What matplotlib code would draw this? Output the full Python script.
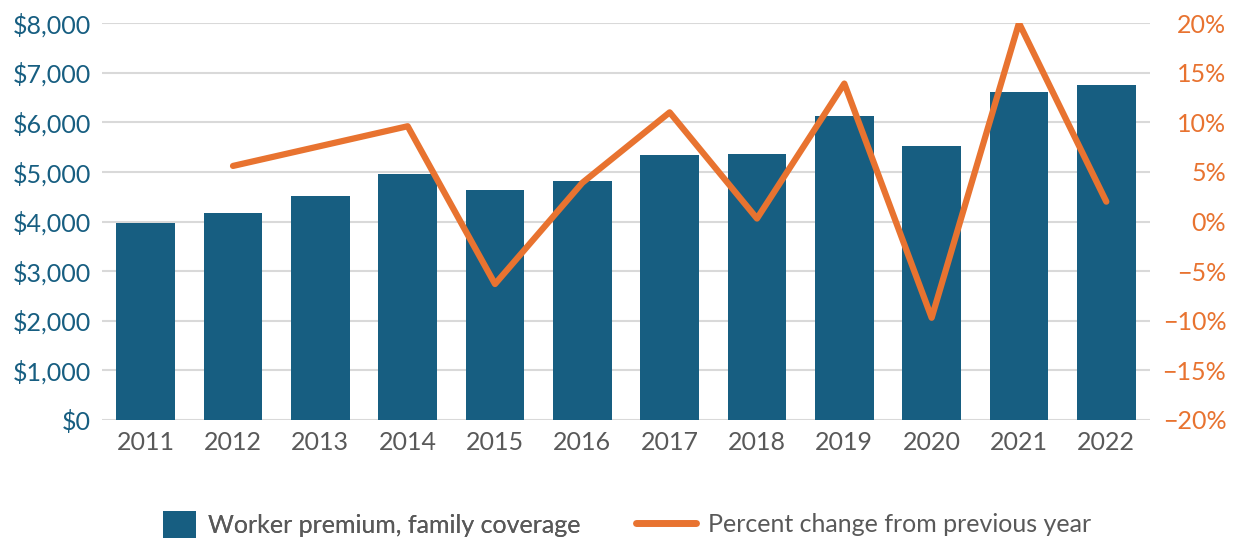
import numpy as np
import matplotlib.pyplot as plt
from matplotlib.lines import Line2D
from matplotlib.patches import Patch

years = ["2011", "2012", "2013", "2014", "2015", "2016",
         "2017", "2018", "2019", "2020", "2021", "2022"]
premium = [3970, 4180, 4520, 4960, 4640, 4820,
           5345, 5370, 6130, 5530, 6610, 6750]
pct_years = years[1:]
pct_change = [5.6, 7.6, 9.6, -6.3, 3.9, 11.0, 0.3, 13.9, -9.7, 20.0, 2.0]

blue = "#175e81"
orange = "#e87330"
gray_text = "#595959"

plt.rcParams["font.family"] = ["Lato", "DejaVu Sans"]

fig = plt.figure(figsize=(12.38, 5.39), dpi=100)
ax = fig.add_axes([0.0824, 0.2208, 0.8465, 0.7365])

x = np.arange(len(years))
ax.bar(x, premium, width=0.675, color=blue, zorder=2)
ax.set_xlim(-0.5, len(years) - 0.5)
ax.set_ylim(0, 8000)
ax.set_yticks(np.arange(0, 8001, 1000))
ax.set_yticklabels([f"${v:,}" for v in range(0, 8001, 1000)])
ax.set_xticks(x)
ax.set_xticklabels(years)
ax.grid(axis="y", color="#d9d9d9", linewidth=1.5, zorder=0)
ax.set_axisbelow(True)
for s in ax.spines.values():
    s.set_visible(False)
ax.tick_params(axis="y", length=0, labelsize=18, labelcolor=blue, pad=8)
ax.tick_params(axis="x", length=0, labelsize=18, labelcolor=gray_text, pad=8)

ax2 = ax.twinx()
ax2.plot(x[1:], pct_change, color=orange, linewidth=4.5,
         solid_capstyle="round", solid_joinstyle="round", zorder=3)
ax2.set_ylim(-20, 20)
ax2.set_yticks(np.arange(-20, 21, 5))
ax2.set_yticklabels([f"{v}%".replace("-", "\u2212") for v in range(-20, 21, 5)])
for s in ax2.spines.values():
    s.set_visible(False)
ax2.tick_params(axis="y", length=0, labelsize=18, labelcolor=orange, pad=55)
for lab in ax2.get_yticklabels():
    lab.set_horizontalalignment("right")

leg_kw = dict(loc="center left", frameon=False, fontsize=18, labelcolor=gray_text,
              borderpad=0, borderaxespad=0, handletextpad=0.5)
leg1 = fig.legend([Patch(facecolor=blue, edgecolor="none")],
                  ["Worker premium, family coverage"],
                  bbox_to_anchor=(163 / 1238, 0.027), handlelength=1.3, handleheight=1.25,
                  **leg_kw)
fig.add_artist(leg1)
fig.legend([Line2D([0], [0], color=orange, linewidth=5, solid_capstyle="round")],
           ["Percent change from previous year"],
           bbox_to_anchor=(636 / 1238, 0.027), handlelength=2.4, **leg_kw)

fig.savefig("out.png", dpi=100)
